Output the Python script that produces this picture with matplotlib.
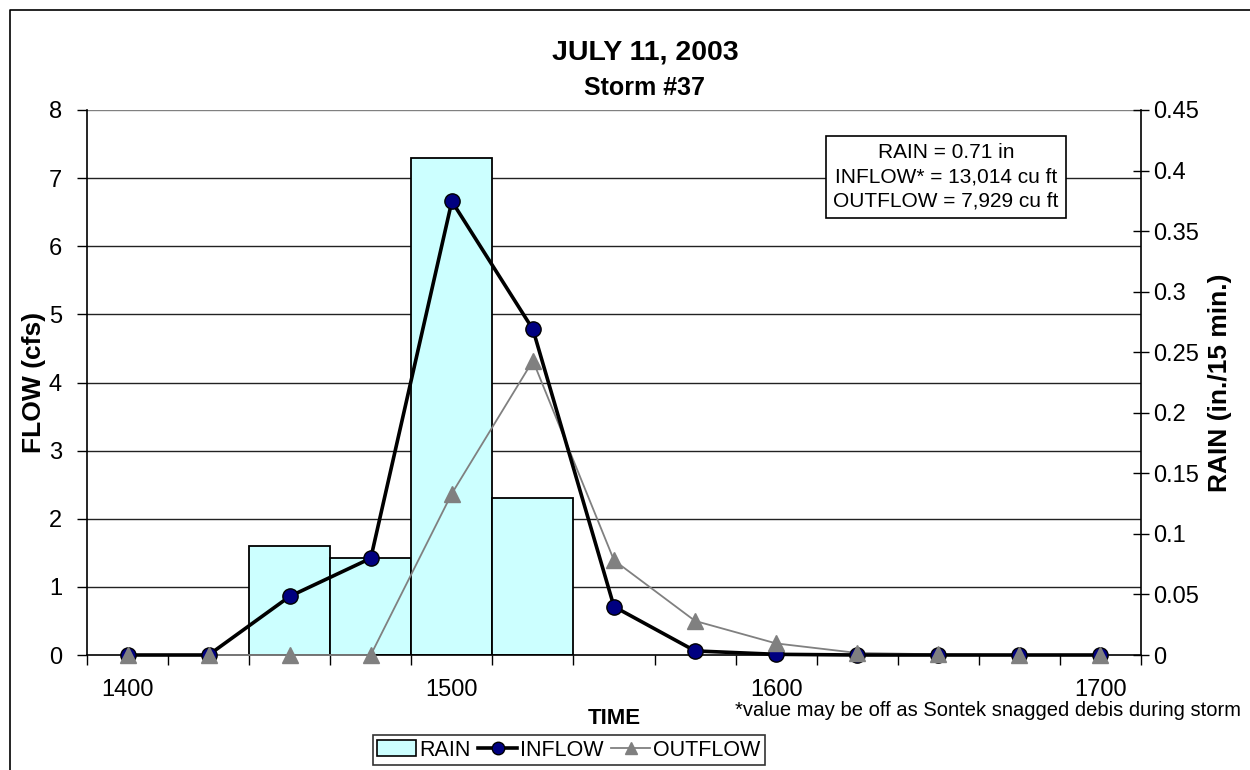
"""Storm #37 (July 11, 2003): rain bars with inflow / outflow hydrographs."""
import matplotlib
matplotlib.use("Agg")
import matplotlib.pyplot as plt
from matplotlib.lines import Line2D
from matplotlib.patches import Patch
from matplotlib.transforms import blended_transform_factory

plt.rcParams["font.family"] = ["Liberation Sans", "DejaVu Sans"]

TIMES = ["1400", "1415", "1430", "1445", "1500", "1515", "1530",
         "1545", "1600", "1615", "1630", "1645", "1700"]
RAIN = [0.0, 0.0, 0.09, 0.08, 0.41, 0.13, 0.0, 0.0, 0.0, 0.0, 0.0, 0.0, 0.0]
INFLOW = [0.0, 0.0, 0.86, 1.42, 6.66, 4.78, 0.71, 0.06, 0.01, 0.0, 0.0, 0.0, 0.0]
OUTFLOW = [0.0, 0.0, 0.0, 0.0, 2.37, 4.32, 1.39, 0.50, 0.17, 0.03, 0.01, 0.0, 0.0]
LABELED = ["1400", "1500", "1600", "1700"]
FLOW_TICKS = [0, 1, 2, 3, 4, 5, 6, 7, 8]
RAIN_TICKS = [0, 0.05, 0.1, 0.15, 0.2, 0.25, 0.3, 0.35, 0.4, 0.45]
SUMMARY = ["RAIN = 0.71 in", "INFLOW* = 13,014 cu ft", "OUTFLOW = 7,929 cu ft"]

W, H = 1250, 770
fig = plt.figure(figsize=(W / 100, H / 100), dpi=100)
ax = fig.add_axes([87 / W, 1 - 655 / H, (1141 - 87) / W, (655 - 110) / H])
ax2 = ax.twinx()
ax2.set_zorder(0)
ax.set_zorder(1)
ax.patch.set_visible(False)

idx = list(range(len(TIMES)))

# rain bars (behind), with flow gridlines drawn on the same layer
ax2.set_ylim(0, RAIN_TICKS[-1])
ax.set_ylim(0, FLOW_TICKS[-1])
tr = blended_transform_factory(ax2.transAxes, ax.transData)
for v in FLOW_TICKS[1:]:
    ax2.plot([0, 1], [v, v], transform=tr,
             color="#808080" if v == FLOW_TICKS[-1] else "#222222", lw=1.0, zorder=0.5)
bars = [(i, r) for i, r in zip(idx, RAIN) if r > 0]
ax2.bar([b[0] for b in bars], [b[1] for b in bars], width=1.0, color="#CCFFFF",
        edgecolor="black", linewidth=1.3, zorder=2)

ax.plot(idx, OUTFLOW, color="#808080", lw=1.3, zorder=3, clip_on=False)
ax.plot(idx, INFLOW, color="black", lw=2.6, marker="o", ms=11,
        mfc="#000080", mec="black", mew=1.0, zorder=4, clip_on=False)
ax.plot(idx, OUTFLOW, ls="none", marker="^", ms=11,
        mfc="#808080", mec="#808080", zorder=5, clip_on=False)

ax.set_xlim(-0.5, len(TIMES) - 0.5)
ax.set_xticks([TIMES.index(t) for t in LABELED])
ax.set_xticklabels(LABELED, fontsize=17)
ax.set_xticks([i - 0.5 for i in range(len(TIMES) + 1)], minor=True)
ax.tick_params(axis="x", which="major", length=0, pad=17)
ax.tick_params(axis="x", which="minor", length=7, direction="out", width=1)

ax.set_yticks(FLOW_TICKS)
ax.tick_params(axis="y", labelsize=17, length=7, direction="out", width=1, pad=11)
ax2.set_yticks(RAIN_TICKS)
ax2.set_yticklabels([f"{t:g}" for t in RAIN_TICKS])
ax2.tick_params(axis="y", labelsize=17, length=12, direction="inout", width=1, pad=3)

for a in (ax, ax2):
    a.spines["top"].set_visible(False)
    for s in ("left", "right", "bottom"):
        a.spines[s].set_linewidth(1.2)
ax.spines["right"].set_visible(False)
ax2.spines["left"].set_visible(False)
ax2.spines["bottom"].set_visible(False)

ax.set_ylabel("FLOW (cfs)", fontsize=19, fontweight="bold", labelpad=2)
ax2.set_ylabel("RAIN (in./15 min.)", fontsize=19, fontweight="bold", labelpad=6)

fig.text(614 / W, 1 - 718 / H, "TIME", ha="center", va="center",
         fontsize=16, fontweight="bold")
fig.text(1241 / W, 1 - 711 / H, "*value may be off as Sontek snagged debis during storm",
         ha="right", va="center", fontsize=14.5)
fig.text(645 / W, 1 - 52 / H, "JULY 11, 2003", ha="center", va="center",
         fontsize=20.5, fontweight="bold")
fig.text(645 / W, 1 - 88 / H, "Storm #37", ha="center", va="center",
         fontsize=18, fontweight="bold")
fig.text(946 / W, 1 - 177 / H, "\n".join(SUMMARY), ha="center", va="center",
         fontsize=15, linespacing=1.35,
         bbox=dict(boxstyle="square,pad=0.35", fc="white", ec="black", lw=1.2))

handles = [
    Patch(facecolor="#CCFFFF", edgecolor="black", linewidth=1.2, label="RAIN"),
    Line2D([], [], color="black", lw=2.6, marker="o", ms=9, mfc="#000080",
           mec="black", label="INFLOW"),
    Line2D([], [], color="#808080", lw=1.3, marker="^", ms=9, mfc="#808080",
           mec="#808080", label="OUTFLOW"),
]
leg = fig.legend(handles=handles, loc="center", bbox_to_anchor=(569 / W, 1 - 750 / H),
                 ncol=3, fontsize=15.5, frameon=True, fancybox=False, edgecolor="black",
                 handlelength=1.8, handletextpad=0.15, columnspacing=0.35,
                 borderpad=0.2, borderaxespad=0)
leg.get_frame().set_linewidth(1.2)

# chart-area border (top and left edges visible in the crop)
fig.add_artist(Line2D([10 / W, 10 / W, 1.0], [0.0, 1 - 10 / H, 1 - 10 / H],
                      transform=fig.transFigure, color="black", lw=1.2))

fig.savefig("out.png", dpi=100)
